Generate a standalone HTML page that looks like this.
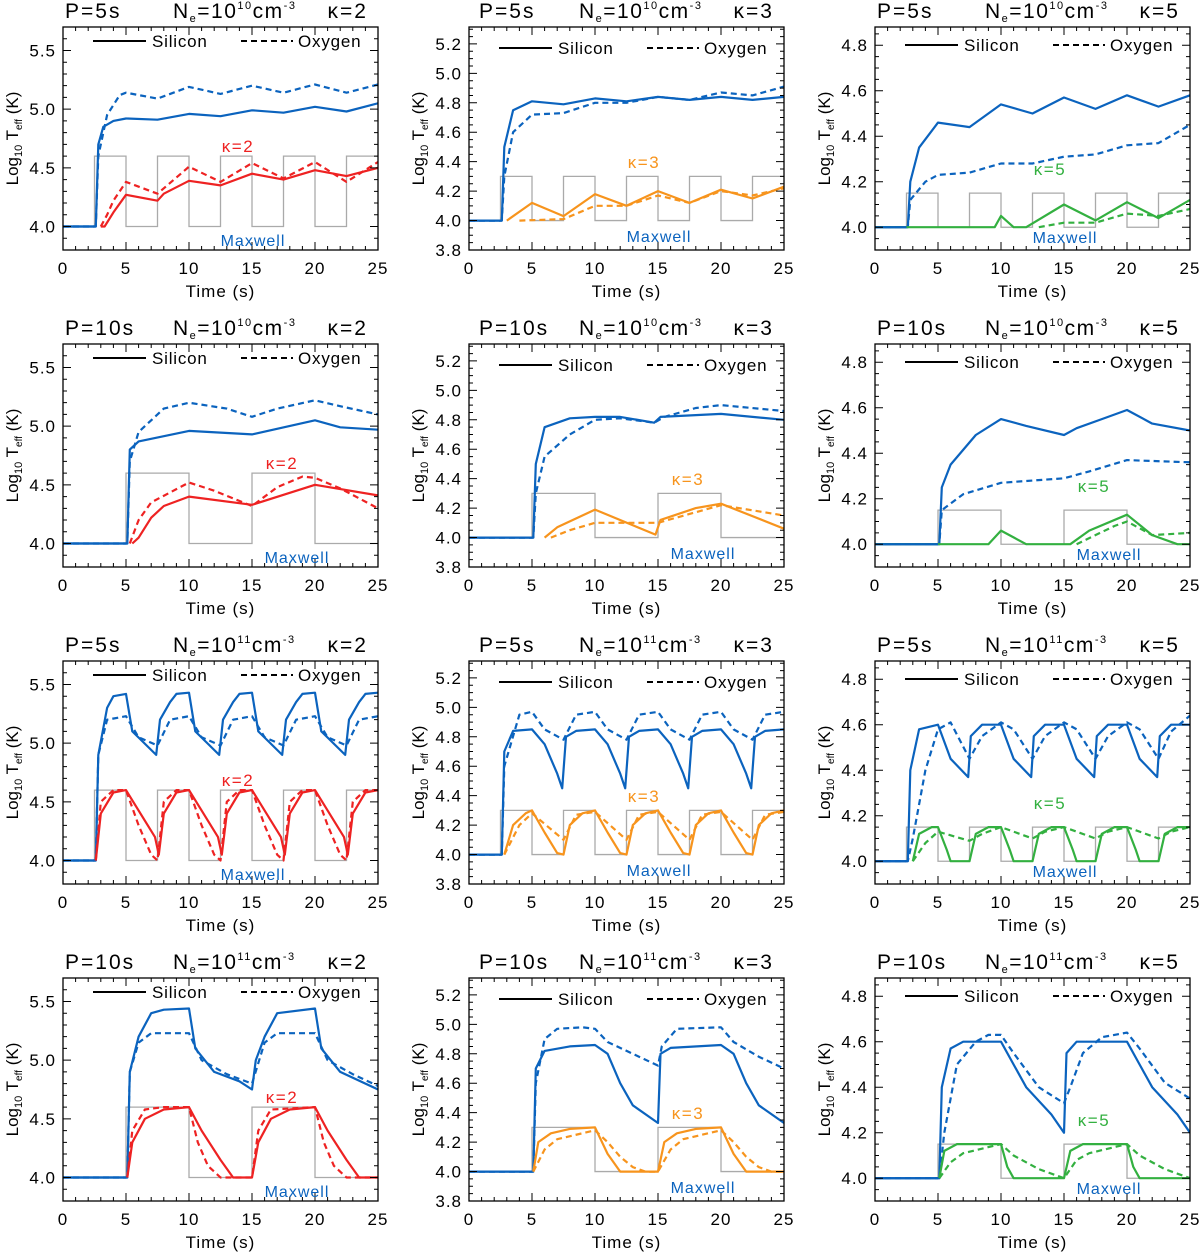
<!DOCTYPE html>
<html><head><meta charset="utf-8"><style>
body{margin:0;background:#fff}
svg{font-family:"Liberation Sans","DejaVu Sans",sans-serif}
</style></head><body>
<svg id="fig" width="1200" height="1253" viewBox="0 0 1200 1253" xmlns="http://www.w3.org/2000/svg"></svg>
<script>
// ---- data (time s, log10 Teff) ----
const xTicks=[0,5,10,15,20,25];
const yTicksCol1=["4.0","4.5","5.0","5.5"];
const yTicksCol2=["3.8","4.0","4.2","4.4","4.6","4.8","5.0","5.2"];
const yTicksCol3=["4.0","4.2","4.4","4.6","4.8"];
const kappas=[2,3,5];
const periods=[5,10,5,10];
const densExp=[10,10,11,11];
const pulseLevel=[4.6,4.3,4.15];

// panel 1: P=5 Ne=1e10 k=2
const p1SiT=[0,2.6,2.8,3.2,4,5,7.5,10,12.5,15,17.5,20,22.5,25];
const p1SiV=[4,4,4.7,4.85,4.9,4.92,4.91,4.96,4.94,4.99,4.97,5.02,4.98,5.05];
const p1OT=[0,2.6,2.8,3.5,4.5,5,7.5,10,12.5,15,17.5,20,22.5,25];
const p1OV=[4,4,4.6,4.95,5.12,5.14,5.09,5.19,5.13,5.2,5.14,5.21,5.14,5.21];
const p1KSiT=[3,3.3,4,5,7.5,8,10,12.5,15,17.5,20,22.5,25];
const p1KSiV=[4,4,4.12,4.27,4.22,4.28,4.39,4.35,4.45,4.4,4.48,4.43,4.5];
const p1KOT=[3,3.5,4,5,7.5,10,12.5,15,17.5,20,22.5,25];
const p1KOV=[4,4.1,4.22,4.38,4.28,4.51,4.38,4.54,4.41,4.55,4.38,4.55];
// panel 2: P=5 Ne=1e10 k=3
const p2SiT=[0,2.6,2.8,3.5,5,7.5,10,12.5,15,17.5,20,22.5,25];
const p2SiV=[4,4,4.5,4.75,4.81,4.79,4.83,4.81,4.84,4.82,4.84,4.82,4.84];
const p2OT=[0,2.6,2.8,3.5,5,7.5,10,12.5,15,17.5,20,22.5,25];
const p2OV=[4,4,4.3,4.6,4.72,4.73,4.8,4.8,4.84,4.82,4.87,4.85,4.91];
const p2KSiT=[3,5,7.5,10,12.5,15,17.5,20,22.5,25];
const p2KSiV=[4,4.12,4.03,4.18,4.1,4.2,4.12,4.21,4.15,4.23];
const p2KOT=[4,7.5,10,12.5,15,17.5,20,22.5,25];
const p2KOV=[4,4.01,4.1,4.1,4.17,4.12,4.2,4.17,4.22];
// panel 3: P=5 Ne=1e10 k=5
const p3SiT=[0,2.6,2.8,3.5,5,7.5,10,12.5,15,17.5,20,22.5,25];
const p3SiV=[4,4,4.2,4.35,4.46,4.44,4.54,4.5,4.57,4.52,4.58,4.53,4.58];
const p3OT=[0,2.6,2.8,4,5,7.5,10,12.5,15,17.5,20,22.5,25];
const p3OV=[4,4,4.12,4.2,4.23,4.24,4.28,4.28,4.31,4.32,4.36,4.37,4.45];
const p3KSiT=[0,9.5,10,11,12,15,17.5,20,22.5,25];
const p3KSiV=[4,4,4.05,4,4,4.1,4.03,4.11,4.04,4.12];
const p3KOT=[13,15,17.5,20,22.5,25];
const p3KOV=[4,4.02,4.02,4.06,4.05,4.08];
// panel 4: P=10 Ne=1e10 k=2
const p4SiT=[0,5.1,5.3,6,10,15,20,22,25];
const p4SiV=[4,4,4.8,4.87,4.96,4.93,5.05,4.99,4.97];
const p4OT=[0,5.1,5.3,6,8,10,13,15,17,20,22,25];
const p4OV=[4,4,4.7,4.95,5.15,5.2,5.15,5.08,5.15,5.22,5.17,5.1];
const p4KSiT=[5.5,6,7,8,10,15,20,25];
const p4KSiV=[4,4.05,4.22,4.32,4.4,4.33,4.5,4.41];
const p4KOT=[5.3,6,7,10,12,15,17,19,20,22,25];
const p4KOV=[4,4.2,4.35,4.52,4.45,4.32,4.48,4.57,4.56,4.47,4.3];
// panel 5: P=10 Ne=1e10 k=3
const p5SiT=[0,5.1,5.3,6,8,10,12,14.7,15.2,20,25];
const p5SiV=[4,4,4.5,4.75,4.81,4.82,4.82,4.78,4.82,4.84,4.8];
const p5OT=[0,5.1,5.3,6,8,10,12,14.7,15.5,18,20,25];
const p5OV=[4,4,4.3,4.55,4.7,4.8,4.81,4.78,4.82,4.88,4.9,4.86];
const p5KSiT=[6,7,10,14.8,15.2,18,20,25];
const p5KSiV=[4,4.07,4.19,4.02,4.12,4.2,4.23,4.06];
const p5KOT=[6.5,8,10,15,20,25];
const p5KOV=[4,4.05,4.1,4.1,4.22,4.15];
// panel 6: P=10 Ne=1e10 k=5
const p6SiT=[0,5.1,5.3,6,8,10,12,15,16,18,20,22,25];
const p6SiV=[4,4,4.25,4.35,4.48,4.55,4.52,4.48,4.51,4.55,4.59,4.53,4.5];
const p6OT=[0,5.1,5.3,7,10,15,17,20,25];
const p6OV=[4,4,4.15,4.22,4.27,4.29,4.32,4.37,4.36];
const p6KSiT=[0,9,10,11,12,15.5,17,20,22,24,25];
const p6KSiV=[4,4,4.06,4.03,4,4,4.06,4.13,4.04,4,4];
const p6KOT=[16,19,20,22,25];
const p6KOV=[4,4.08,4.1,4.04,4.05];
// panel 7: P=5 Ne=1e11 k=2
const p7SiT=[0,2.6,2.8,3.5,4,5,5.5,7.4,7.7,8.5,9,10,10.5,12.4,12.7,13.5,14,15,15.5,17.4,17.7,18.5,19,20,20.5,22.4,22.7,23.5,24,25];
const p7SiV=[4,4,4.9,5.3,5.4,5.42,5.1,4.9,5.2,5.35,5.42,5.43,5.1,4.9,5.2,5.35,5.42,5.43,5.1,4.9,5.2,5.35,5.42,5.43,5.1,4.9,5.2,5.35,5.42,5.43];
const p7OT=[0,2.6,2.8,3.5,5,6,7.5,8.5,10,11,12.5,13.5,15,16,17.5,18.5,20,21,22.5,23.5,25];
const p7OV=[4,4,4.9,5.2,5.23,5.05,4.98,5.2,5.23,5.05,4.98,5.2,5.23,5.05,4.98,5.2,5.23,5.05,4.98,5.2,5.23];
const p7KSiT=[2.6,3,4,5,7.3,7.6,8,9,10,12.3,12.6,13,14,15,17.3,17.6,18,19,20,22.3,22.6,23,24,25];
const p7KSiV=[4,4.4,4.58,4.6,4.2,4.05,4.4,4.58,4.6,4.2,4.05,4.4,4.58,4.6,4.2,4.05,4.4,4.58,4.6,4.2,4.05,4.4,4.58,4.6];
const p7KOT=[2.6,3,4,5,6,7,7.5,8,9,10,11,12,12.5,13,14,15,16,17,17.5,18,19,20,21,22,22.5,23,24,25];
const p7KOV=[4,4.5,4.6,4.6,4.3,4.05,4,4.5,4.6,4.6,4.3,4.05,4,4.5,4.6,4.6,4.3,4.05,4,4.5,4.6,4.6,4.3,4.05,4,4.5,4.6,4.6];
// panel 8: P=5 Ne=1e11 k=3
const p8SiT=[0,2.6,2.8,3.5,5,6,7,7.4,7.7,8.5,10,11,12,12.4,12.7,13.5,15,16,17,17.4,17.7,18.5,20,21,22,22.4,22.7,23.5,25];
const p8SiV=[4,4,4.7,4.84,4.85,4.75,4.55,4.45,4.8,4.84,4.85,4.75,4.55,4.45,4.8,4.84,4.85,4.75,4.55,4.45,4.8,4.84,4.85,4.75,4.55,4.45,4.8,4.84,4.85];
const p8OT=[0,2.6,2.8,4,5,6,7.5,8.5,10,11,12.5,13.5,15,16,17.5,18.5,20,21,22.5,23.5,25];
const p8OV=[4,4,4.6,4.95,4.97,4.85,4.78,4.95,4.97,4.85,4.78,4.95,4.97,4.85,4.78,4.95,4.97,4.85,4.78,4.95,4.97];
const p8KSiT=[2.8,3.5,4.5,5,6,7,7.5,8,9,10,11,12,12.5,13,14,15,16,17,17.5,18,19,20,21,22,22.5,23,24,25];
const p8KSiV=[4,4.2,4.28,4.3,4.15,4.01,4,4.2,4.28,4.3,4.15,4.01,4,4.2,4.28,4.3,4.15,4.01,4,4.2,4.28,4.3,4.15,4.01,4,4.2,4.28,4.3];
const p8KOT=[2.8,4,5,7.5,8.5,10,12.5,13.5,15,17.5,18.5,20,22.5,23.5,25];
const p8KOV=[4,4.2,4.28,4.1,4.27,4.29,4.1,4.27,4.29,4.1,4.27,4.29,4.1,4.27,4.29];
// panel 9: P=5 Ne=1e11 k=5
const p9SiT=[0,2.6,2.8,3.5,5,6,7.4,7.6,8.5,10,11,12.4,12.6,13.5,15,16,17.4,17.6,18.5,20,21,22.4,22.6,23.5,25];
const p9SiV=[4,4,4.4,4.58,4.6,4.45,4.37,4.55,4.6,4.6,4.45,4.37,4.55,4.6,4.6,4.45,4.37,4.55,4.6,4.6,4.45,4.37,4.55,4.6,4.6];
const p9OT=[0,2.6,3,4,5,6,7.5,8.5,10,11,12.5,13.5,15,16,17.5,18.5,20,21,22.5,23.5,25];
const p9OV=[4,4,4.1,4.4,4.58,4.61,4.45,4.55,4.61,4.58,4.45,4.55,4.61,4.58,4.45,4.55,4.61,4.58,4.45,4.57,4.64];
const p9KSiT=[3,3.5,4.5,5,5.7,6,7.5,8,9,10,10.7,11,12.5,13,14,15,15.7,16,17.5,18,19,20,20.7,21,22.5,23,24,25];
const p9KSiV=[4,4.12,4.15,4.15,4.05,4,4,4.12,4.15,4.15,4.05,4,4,4.12,4.15,4.15,4.05,4,4,4.12,4.15,4.15,4.05,4,4,4.12,4.15,4.15];
const p9KOT=[3,4,5,7.5,8.5,10,12.5,13.5,15,17.5,18.5,20,22.5,23.5,25];
const p9KOV=[4,4.08,4.13,4.09,4.12,4.15,4.1,4.13,4.15,4.1,4.13,4.15,4.1,4.13,4.15];
// panel 10: P=10 Ne=1e11 k=2
const p10SiT=[0,5.1,5.3,6,7,8,10,10.5,12,14,15,15.3,16,17,20,20.5,22,25];
const p10SiV=[4,4,4.9,5.2,5.4,5.43,5.44,5.1,4.9,4.82,4.75,5.0,5.2,5.4,5.44,5.1,4.9,4.75];
const p10OT=[0,5.1,5.3,6,7,10,11,13,15,16,17,20,21,23,25];
const p10OV=[4,4,4.9,5.15,5.23,5.23,5.0,4.88,4.8,5.15,5.23,5.23,5.0,4.88,4.78];
const p10KSiT=[5.1,5.5,6.5,8,10,11,12.5,13.5,15,15.5,16.5,18,20,21,22.5,23.5,25];
const p10KSiV=[4,4.3,4.5,4.58,4.6,4.4,4.15,4,4,4.3,4.5,4.58,4.6,4.4,4.15,4,4];
const p10KOT=[5.1,5.5,6.5,8,10,10.7,11.5,12.5,15,15.5,16.5,20,20.7,21.5,22.5,25];
const p10KOV=[4,4.4,4.58,4.6,4.6,4.3,4.1,4,4,4.4,4.58,4.6,4.3,4.1,4,4];
// panel 11: P=10 Ne=1e11 k=3
const p11SiT=[0,5.1,5.3,6,8,10,11,12,13,15,15.2,16,20,21,22,23,25];
const p11SiV=[4,4,4.7,4.82,4.85,4.86,4.8,4.6,4.45,4.33,4.8,4.84,4.86,4.8,4.6,4.45,4.33];
const p11OT=[0,5.1,5.3,6,7,9,10,11,13,15,15.3,16.5,20,21,23,25];
const p11OV=[4,4,4.6,4.9,4.97,4.98,4.97,4.88,4.8,4.72,4.85,4.97,4.98,4.88,4.78,4.7];
const p11KSiT=[5.1,5.5,6.5,8,10,11,12,15,15.5,16.5,18,20,21,22,25];
const p11KSiV=[4,4.2,4.26,4.29,4.3,4.12,4,4,4.2,4.26,4.29,4.3,4.12,4,4];
const p11KOT=[5.1,6,7,10,11,12,13,14,15,16,17,20,21,22,23,24,25];
const p11KOV=[4,4.15,4.22,4.28,4.2,4.1,4.03,4,4,4.15,4.22,4.28,4.2,4.1,4.03,4,4];
// panel 12: P=10 Ne=1e11 k=5
const p12SiT=[0,5.1,5.3,6,7,10,11,12,14,15,15.2,16,20,21,22,24,25];
const p12SiV=[4,4,4.4,4.57,4.6,4.6,4.5,4.4,4.28,4.2,4.55,4.6,4.6,4.5,4.4,4.28,4.2];
const p12OT=[0,5.1,5.5,6.5,8,9,10,11,13,15,15.5,16.5,18,20,21,23,25];
const p12OV=[4,4,4.2,4.5,4.6,4.63,4.63,4.55,4.4,4.33,4.4,4.55,4.62,4.64,4.57,4.42,4.35];
const p12KSiT=[5.1,5.5,6.5,10,10.5,11,15,15.5,16.5,20,20.5,21,25];
const p12KSiV=[4,4.12,4.15,4.15,4.05,4,4,4.12,4.15,4.15,4.05,4,4];
const p12KOT=[5.1,6,7,10,11,13,15,16,17,20,21,23,25];
const p12KOV=[4,4.07,4.11,4.15,4.1,4.04,4,4.08,4.11,4.15,4.1,4.04,4];

const panelSeries=[
 [p1SiT,p1SiV,p1OT,p1OV,p1KSiT,p1KSiV,p1KOT,p1KOV],
 [p2SiT,p2SiV,p2OT,p2OV,p2KSiT,p2KSiV,p2KOT,p2KOV],
 [p3SiT,p3SiV,p3OT,p3OV,p3KSiT,p3KSiV,p3KOT,p3KOV],
 [p4SiT,p4SiV,p4OT,p4OV,p4KSiT,p4KSiV,p4KOT,p4KOV],
 [p5SiT,p5SiV,p5OT,p5OV,p5KSiT,p5KSiV,p5KOT,p5KOV],
 [p6SiT,p6SiV,p6OT,p6OV,p6KSiT,p6KSiV,p6KOT,p6KOV],
 [p7SiT,p7SiV,p7OT,p7OV,p7KSiT,p7KSiV,p7KOT,p7KOV],
 [p8SiT,p8SiV,p8OT,p8OV,p8KSiT,p8KSiV,p8KOT,p8KOV],
 [p9SiT,p9SiV,p9OT,p9OV,p9KSiT,p9KSiV,p9KOT,p9KOV],
 [p10SiT,p10SiV,p10OT,p10OV,p10KSiT,p10KSiV,p10KOT,p10KOV],
 [p11SiT,p11SiV,p11OT,p11OV,p11KSiT,p11KSiV,p11KOT,p11KOV],
 [p12SiT,p12SiV,p12OT,p12OV,p12KSiT,p12KSiV,p12KOT,p12KOV]];

// ---- layout ----
const NS="http://www.w3.org/2000/svg";
const svg=document.getElementById('fig');
const colX=[63,469,875], rowY=[27,344,661,978], W=315, H=223;
const yRanges=[[3.8,5.7],[3.8,5.315],[3.9,4.88]];
const yMinor=[0.1,0.05,0.05];
const yTickSets=[yTicksCol1,yTicksCol2,yTicksCol3];
const kColors=['#ee2222','#f7941d','#33b040'];
const BLUE='#0b63be';
const legendY=[14,21,18];
function mk(tag,attrs,parent){const e=document.createElementNS(NS,tag);for(const k in attrs)e.setAttribute(k,attrs[k]);(parent||svg).appendChild(e);return e;}

for(let r=0;r<4;r++)for(let c=0;c<3;c++){
 const x0=colX[c],y0=rowY[r],[ymin,ymax]=yRanges[c],P=periods[r],k=kappas[c];
 const sx=t=>x0+t/25*W, sy=v=>y0+H-(v-ymin)/(ymax-ymin)*H;
 const g=mk('g',{});
 
 
 const clipId='clip'+r+c;
 const cp=mk('clipPath',{id:clipId},g);mk('rect',{x:x0,y:y0,width:W,height:H},cp);
 let d='M'+sx(0)+','+sy(4);
 for(let t=P/2;t<25;t+=P){const t2=Math.min(t+P/2,25);d+=' L'+sx(t)+','+sy(4)+' L'+sx(t)+','+sy(pulseLevel[c])+' L'+sx(t2)+','+sy(pulseLevel[c])+(t2<25?' L'+sx(t2)+','+sy(4):'');if(t2<25){const t3=Math.min(t2+P/2,25);d+=' L'+sx(t3)+','+sy(4);}}
 const pl=mk('path',{d:d,fill:'none',stroke:'#aaaaaa','stroke-width':1.3,'clip-path':'url(#'+clipId+')'},g);
 
 
 const S=panelSeries[r*3+c];
 const specs=[[0,BLUE,false,'silicon-maxwell'],[2,BLUE,true,'oxygen-maxwell'],[4,kColors[c],false,'silicon-kappa'],[6,kColors[c],true,'oxygen-kappa']];
 for(const [i,col,dash,name] of specs){
  const T=S[i],V=S[i+1];
  let p='';T.forEach((t,j)=>{p+=(j?' L':'M')+sx(t).toFixed(1)+','+sy(V[j]).toFixed(1);});
  const a={d:p,fill:'none',stroke:col,'stroke-width':2.2,'clip-path':'url(#'+clipId+')','stroke-linejoin':'round'};
  if(dash)a['stroke-dasharray']='6,4';
  const e=mk('path',a,g);
  
  
 }
 const base=mk('path',{d:'M'+sx(0)+','+sy(4)+' L'+sx(P/2)+','+sy(4),stroke:BLUE,'stroke-width':2.2},g);
 
 
 const fr=mk('rect',{x:x0,y:y0,width:W,height:H,fill:'none',stroke:'#000','stroke-width':1.3},g);
 
 
 let td='';
 for(let t=0;t<=25;t++){const L=t%5==0?8:4;td+='M'+sx(t)+','+(y0+H)+'v-'+L+'M'+sx(t)+','+y0+'v'+L;}
 const nMin=Math.round((ymax-ymin)/yMinor[c]);
 for(let j=0;j<=nMin+1;j++){const v=Math.ceil(ymin/yMinor[c]-1e-6)*yMinor[c]+j*yMinor[c];if(v>ymax)break;const isMaj=yTickSets[c].some(s=>Math.abs(parseFloat(s)-v)<1e-6);const L=isMaj?8:4;td+='M'+x0+','+sy(v)+'h'+L+'M'+(x0+W)+','+sy(v)+'h-'+L;}
 mk('path',{d:td,stroke:'#000','stroke-width':1},g);
 xTicks.forEach(t=>{const e=mk('text',{x:sx(t),y:y0+H+24,'font-size':17,'text-anchor':'middle','letter-spacing':1},g);e.textContent=t;
  
  });
 yTickSets[c].forEach(s=>{const e=mk('text',{x:x0-7,y:sy(parseFloat(s))+6,'font-size':17,'text-anchor':'end','letter-spacing':1},g);e.textContent=s;
  
  });
 const xt=mk('text',{x:x0+W/2,y:y0+H+47,'font-size':17,'text-anchor':'middle','letter-spacing':1},g);xt.textContent='Time (s)';
 
 
 const yt=mk('text',{transform:'translate('+(x0-45)+','+(y0+H/2)+') rotate(-90)','font-size':17,'text-anchor':'middle'},g);
 yt.innerHTML='Log<tspan font-size="11" dy="4">10</tspan><tspan dy="-4"> T</tspan><tspan font-size="10" dy="4">eff</tspan><tspan dy="-4"> (K)</tspan>';
 
 
 const ti=mk('text',{x:x0+(c==1?10:2),y:y0-9,'font-size':21,'letter-spacing':2},g);ti.textContent='P='+P+'s';
 
 
 const tn=mk('text',{x:x0+110,y:y0-9,'font-size':21,'letter-spacing':1.5},g);
 tn.innerHTML='N<tspan font-size="11" dy="4">e</tspan><tspan dy="-4">=10</tspan><tspan font-size="11" dy="-9">'+densExp[r]+'</tspan><tspan dy="9">cm</tspan><tspan font-size="11" dy="-9">-3</tspan>';
 
 
 const tk=mk('text',{x:x0+W-10,y:y0-9,'font-size':21,'text-anchor':'end','letter-spacing':2},g);tk.textContent='\u03BA='+k;
 
 
 const ly=y0+legendY[c];
 mk('path',{d:'M'+(x0+30)+','+ly+'h53',stroke:'#000','stroke-width':2},g);
 mk('path',{d:'M'+(x0+178)+','+ly+'h52',stroke:'#000','stroke-width':2,'stroke-dasharray':'6,4'},g);
 const l1=mk('text',{x:x0+89,y:ly+6,'font-size':17,'letter-spacing':0.8},g);l1.textContent='Silicon';
 
 
 const l2=mk('text',{x:x0+235,y:ly+6,'font-size':17,'letter-spacing':0.8},g);l2.textContent='Oxygen';
 
 
 const off=P==10?44:0;
 const kl=mk('text',{x:x0+175+off,y:y0+[125,141,148][c],'font-size':17,fill:kColors[c],'text-anchor':'middle','letter-spacing':1.5},g);kl.textContent='\u03BA='+k;
 
 
 const ml=mk('text',{x:x0+190+off,y:y0+[219,215,216][c],'font-size':16,fill:BLUE,'text-anchor':'middle','letter-spacing':1},g);ml.textContent='Maxwell';
 
 
}
</script>
</body></html>
